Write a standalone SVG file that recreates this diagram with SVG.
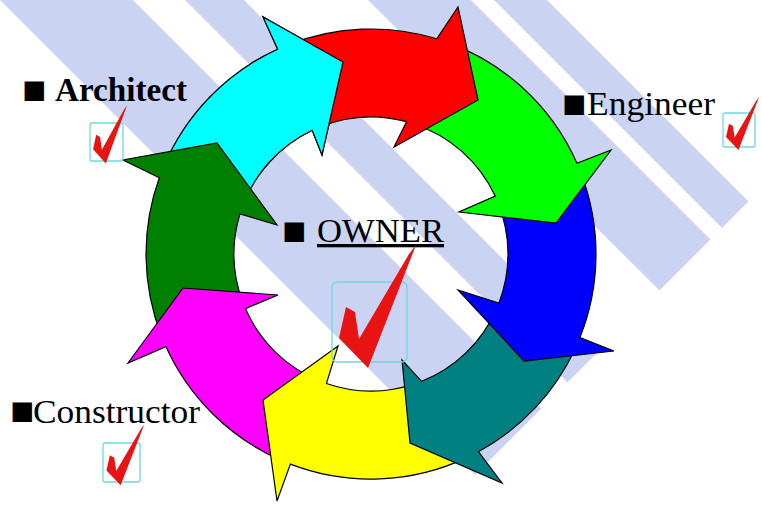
<svg xmlns="http://www.w3.org/2000/svg" xmlns:xlink="http://www.w3.org/1999/xlink" width="762" height="506" viewBox="0 0 762 506">
  <style>
    .stripe { fill: #cbd3f3; }
    .arrow { stroke: #000; stroke-width: 1.2; stroke-linejoin: miter; }
    .box { fill: none; stroke: #6fd8e2; stroke-width: 1.3; }
    .chk { fill: #e81414; }
    .word { font-family: "Liberation Serif", "Times New Roman", serif; font-size: 33px; fill: #000; }
    .bul { font-family: "Liberation Serif", "DejaVu Sans", serif; font-size: 40px; fill: #000; }
  </style>
  <defs>
    <path id="check" d="M7,56 L14,25 L23,30 L27,57 L77,-28 L84,-37 L36,86 Z"/>
    <path id="cyanShape" d="M163.6,166.8 A225,225 0 0 1 277.7,49.2 L263,17 L343,62 L322,155 L312.2,130.2 A137,137 0 0 0 242.3,207.1 Z"/>
    <clipPath id="cyanHeadClip"><rect x="250" y="0" width="150" height="175"/></clipPath>
  </defs>
  <rect width="762" height="506" fill="#fff"/>
  <g id="stripes">
    <polygon class="stripe" points="0,0 133,0 541.5,408.5 475,475"/>
    <polygon class="stripe" points="185,0 244,0 597,353 567.5,382.5"/>
    <polygon class="stripe" points="368,0 471,0 710.5,239.5 659.5,290.5"/>
    <polygon class="stripe" points="494,0 547,0 748.5,201.5 722,228"/>
  </g>
  <g id="connectors">
    <use id="arrow-cyan" xlink:href="#cyanShape" class="arrow" fill="#00ffff"/>
    <path id="arrow-darkgreen" class="arrow" fill="#008000" d="M161.4,335.7 A225,225 0 0 1 159.3,177.8 L123,160 L217,143 L277,225 L240,213.9 A137,137 0 0 0 242.7,302 Z"/>
    <path id="arrow-magenta" class="arrow" fill="#ff00ff" d="M279.5,459.5 A225,225 0 0 1 165.9,346.6 L128,363 L183,288 L278,295 L245.4,308.6 A137,137 0 0 0 319.7,381 Z"/>
    <path id="arrow-yellow" class="arrow" fill="#ffff00" d="M467.9,457.1 A225,225 0 0 1 290.4,464.1 L277,501 L263,400 L338,346 L326.4,383.5 A137,137 0 0 0 414.9,383.8 Z"/>
    <path id="arrow-teal" class="arrow" fill="#008080" d="M575.3,348.4 A225,225 0 0 1 478.4,451.7 L502,483 L410,443 L402,360 L421.6,381.3 A137,137 0 0 0 496.2,309.7 Z"/>
    <path id="arrow-blue" class="arrow" fill="#0000ff" d="M581.3,174.1 A225,225 0 0 1 579.9,337.6 L614,351 L524,361 L458,290 L498.9,303.1 A137,137 0 0 0 498,202.7 Z"/>
    <path id="arrow-green" class="arrow" fill="#00ff00" d="M448,42.6 A225,225 0 0 1 576.9,163.2 L611,150 L556,223 L459,212 L495.2,196.1 A137,137 0 0 0 413.3,123.7 Z"/>
    <path id="arrow-red" class="arrow" fill="#ff0000" d="M288.5,44.7 A225,225 0 0 1 436.8,38.8 L458,7 L478,100 L394,147 L406.5,121.7 A137,137 0 0 0 318.8,127.3 Z"/>
    <use xlink:href="#cyanShape" class="arrow" fill="#00ffff" clip-path="url(#cyanHeadClip)"/>
  </g>
  <g id="architect">
    <text class="bul" x="22" y="103">■</text>
    <text class="word" x="55" y="101" font-weight="bold" textLength="132" lengthAdjust="spacingAndGlyphs">Architect</text>
    <rect class="box" x="90" y="123" width="33" height="38" rx="2"/>
    <use xlink:href="#check" class="chk" transform="translate(90,123) scale(0.44,0.47)"/>
  </g>
  <g id="engineer">
    <text class="bul" x="562" y="117">■</text>
    <text class="word" x="587" y="115" textLength="128" lengthAdjust="spacingAndGlyphs">Engineer</text>
    <rect class="box" x="723" y="113" width="32" height="34" rx="2"/>
    <use xlink:href="#check" class="chk" transform="translate(723,113) scale(0.43)"/>
  </g>
  <g id="owner">
    <text class="bul" x="282" y="244">■</text>
    <text class="word" x="317" y="242" text-decoration="underline" textLength="127" lengthAdjust="spacingAndGlyphs">OWNER</text>
    <rect class="box" x="332" y="282" width="75" height="80" rx="5"/>
    <use xlink:href="#check" class="chk" transform="translate(332,282)"/>
  </g>
  <g id="constructor">
    <text class="bul" x="10" y="424">■</text>
    <text class="word" x="33" y="423" textLength="167" lengthAdjust="spacingAndGlyphs">Constructor</text>
    <rect class="box" x="103" y="443" width="37" height="39" rx="2"/>
    <use xlink:href="#check" class="chk" transform="translate(103,443) scale(0.49)"/>
  </g>
</svg>
